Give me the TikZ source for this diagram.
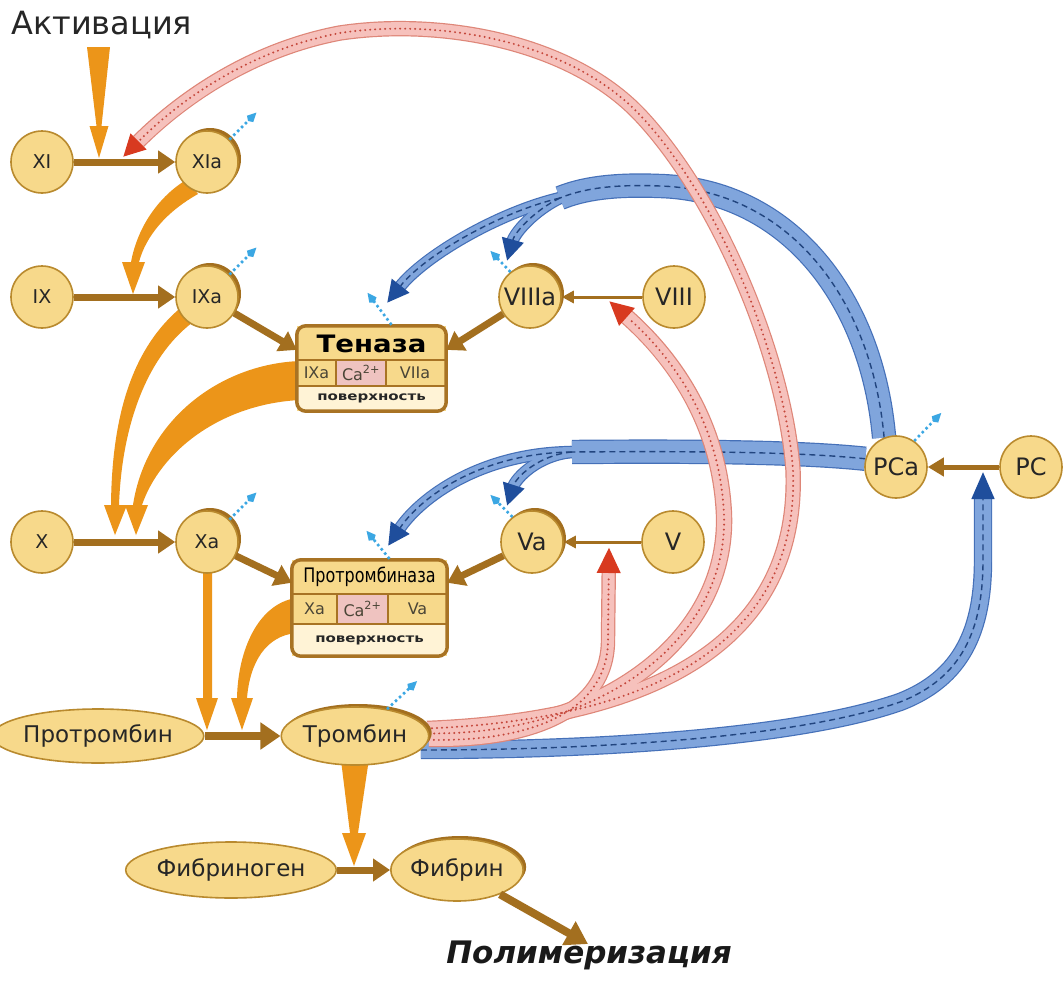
\documentclass[tikz,border=0pt]{standalone}
\usepackage{fontspec}
\setmainfont{DejaVu Sans}
\usetikzlibrary{arrows.meta,shapes.geometric,shadows,calc}
\definecolor{nodefill}{HTML}{F7D98B}
\definecolor{nodeborder}{HTML}{B98A2E}
\definecolor{brownarrow}{HTML}{A36F1F}
\definecolor{orangeA}{HTML}{EC9519}
\definecolor{boxborder}{HTML}{A87324}
\definecolor{pinkfill}{HTML}{F6C1BC}
\definecolor{pinkedge}{HTML}{DE8678}
\definecolor{pinkdot}{HTML}{C4463A}
\definecolor{bluefill}{HTML}{80A5DC}
\definecolor{blueedge}{HTML}{4570B8}
\definecolor{bluedash}{HTML}{22457F}
\definecolor{darkblue}{HTML}{1F4E9C}
\definecolor{redtip}{HTML}{D83A20}
\definecolor{lightblue}{HTML}{3BA7E3}
\definecolor{capink}{HTML}{EFC3C0}
\definecolor{cream}{HTML}{FFF3D6}
\definecolor{celltext}{HTML}{4A4536}
\pgfdeclarelayer{bg}
\pgfsetlayers{bg,main}
\begin{document}
\begin{tikzpicture}[x=1pt,y=-1pt,
  fac/.style={circle, draw=nodeborder, line width=1.6pt, fill=nodefill, minimum size=62pt, inner sep=0pt, text=black!85, font=\fontsize{19}{19}\selectfont},
  facR/.style={fac, font=\fontsize{24}{24}\selectfont},
  actv/.style={general shadow={fill=brownarrow, opacity=1, shadow xshift=3pt, shadow yshift=3pt}},
  ell/.style={ellipse, draw=nodeborder, line width=1.6pt, fill=nodefill, inner sep=0pt, text=black!85, font=\fontsize{23}{23}\selectfont},
  cplx/.style={rectangle, fill=nodefill, inner sep=0pt},
  brw/.style={draw=brownarrow, line width=7pt, -{Triangle[length=17pt,width=22pt]}},
  brwthin/.style={draw=brownarrow, line width=3pt, -{Triangle[length=12pt,width=12pt]}},
  lbl/.style={draw=lightblue, line width=2.6pt, dash pattern=on 2.5pt off 3pt, -{Kite[length=12pt,width=9pt]}},
  cell/.style={inner sep=0pt, text=celltext, font=\fontsize{16}{16}\selectfont},
  surf/.style={inner sep=0pt, text=black!85, font=\bfseries\fontsize{12}{12}\selectfont},
  bedge/.style={draw=blueedge},
  bfill/.style={draw=bluefill},
  bdash/.style={draw=bluedash, line width=1.4pt, dash pattern=on 6pt off 4pt},
  pedge/.style={draw=pinkedge},
  pfill/.style={draw=pinkfill},
  pdot/.style={draw=pinkdot, line width=2.2pt, line cap=round, dash pattern=on 0pt off 5pt},
]
\useasboundingbox (0,0) rectangle (1063,985);

% ---------- nodes ----------
\node[font=\fontsize{32}{32}\selectfont, anchor=west, inner sep=0pt, text=black!85] (activ) at (11,25) {Активация};
\node[fac] (xi) at (42,162) {XI};
\node[fac,actv] (xia) at (207,162) {XIa};
\node[fac] (ix) at (42,297) {IX};
\node[fac,actv] (ixa) at (207,297) {IXa};
\node[fac] (x) at (42,542) {X};
\node[fac,actv] (xa) at (207,542) {Xa};
\node[facR,actv] (viiia) at (530,297) {VIIIa};
\node[facR] (viii) at (674,297) {VIII};
\node[facR,actv] (va) at (532,542) {Va};
\node[facR] (v) at (673,542) {V};
\node[facR] (pca) at (896,467) {PCa};
\node[facR] (pc) at (1031,467) {PC};
\node[ell, minimum width=176pt, minimum height=54pt] (prot) at (98,736) {Протромбин};
\node[ell, actv, minimum width=134pt, minimum height=58pt] (tromb) at (355,736) {Тромбин};
\node[ell, minimum width=152pt, minimum height=56pt] (fibg) at (231,870) {Фибриноген};
\node[ell, actv, minimum width=94pt, minimum height=62pt] (fibr) at (457,870) {Фибрин};
\node[font=\bfseries\itshape\fontsize{31}{31}\selectfont, inner sep=0pt, text=black!90] (polym) at (589,955) {Полимеризация};
\coordinate (poltip) at (588,944);

% Tenase complex
\node[cplx, minimum width=149pt, minimum height=85pt] (ten) at (371.5,368.5) {};
\begin{scope}
\clip[rounded corners=9pt] (ten.north west) rectangle (ten.south east);
\fill[cream] (297,386) rectangle (446,411);
\fill[capink] (336,360) rectangle (386,386);
\end{scope}
\draw[boxborder, line width=1.2pt] (297,360) -- (446,360) (297,386) -- (446,386) (336,360) -- (336,386) (386,360) -- (386,386);
\draw[boxborder, line width=3.5pt, rounded corners=9pt] (ten.north west) rectangle (ten.south east);
\node[inner sep=0pt, font=\bfseries\fontsize{24}{24}\selectfont] (tenT) at (371.5,344) {\scalebox{1.15}[1]{Теназа}};
\node[cell] (tenA) at (316.5,373) {IXa};
\node[cell] (tenB) at (361,373) {Ca\textsuperscript{2+}};
\node[cell] (tenC) at (415,373) {VIIa};
\node[surf] (tenS) at (371.5,398.5) {\scalebox{1.25}[1]{поверхность}};

% Prothrombinase complex
\node[cplx, minimum width=155pt, minimum height=96pt] (ptb) at (369.5,608) {};
\begin{scope}
\clip[rounded corners=9pt] (ptb.north west) rectangle (ptb.south east);
\fill[cream] (292,624) rectangle (447,656);
\fill[capink] (337,594) rectangle (388,624);
\end{scope}
\draw[boxborder, line width=1.2pt] (292,594) -- (447,594) (292,624) -- (447,624) (337,594) -- (337,624) (388,594) -- (388,624);
\draw[boxborder, line width=3.5pt, rounded corners=9pt] (ptb.north west) rectangle (ptb.south east);
\node[inner sep=0pt, font=\fontsize{20}{20}\selectfont] (ptbT) at (369.5,577) {\scalebox{0.8}[1]{Протромбиназа}};
\node[cell] (ptbA) at (314.5,609) {Xa};
\node[cell] (ptbB) at (362.5,609) {Ca\textsuperscript{2+}};
\node[cell] (ptbC) at (417.5,609) {Va};
\node[surf] (ptbS) at (369.5,640) {\scalebox{1.25}[1]{поверхность}};

% ---------- coordinates for band ends ----------
\coordinate (s1) at (560,198);
\coordinate (s2) at (572,452);
\coordinate (bT) at (387,303);
\coordinate (b8) at (507,261);
\coordinate (bP) at (388,546);
\coordinate (bV) at (507,506);
\coordinate (bPC) at (983,471);
\coordinate (r8) at (609,301);
\coordinate (r5) at (609,547);
\coordinate (r11) at (123,157);

\def\pBcom{(pca.112) .. controls (872,300) and (790,190) .. (660,186) .. controls (612,184) and (582,189) .. (s1)}
\def\pBten{(s1) .. controls (500,212) and (425,255) .. (bT)}
\def\pBviii{(s1) .. controls (535,210) and (515,232) .. (b8)}
\def\pBcomb{(pca.165) .. controls (800,452) and (700,451) .. (s2)}
\def\pBpt{(s2) .. controls (480,453) and (420,498) .. (bP)}
\def\pBva{(s2) .. controls (538,455) and (516,478) .. (bV)}
\def\pBpc{(tromb.-12) .. controls (600,750) and (800,737) .. (900,702) .. controls (962,678) and (983,630) .. (983,560) -- (bPC)}
\def\pPva{(tromb.-3) .. controls (530,742) and (608,712) .. (608,640) -- (r5)}
\def\pPviii{(tromb.2) .. controls (600,735) and (728,640) .. (724,515) .. controls (720,420) and (670,355) .. (r8)}
\def\pPxi{(tromb.6) .. controls (640,720) and (800,650) .. (793,470) .. controls (785,360) and (720,200) .. (640,115) .. controls (570,41) and (440,18) .. (340,33) .. controls (250,50) and (180,100) .. (r11)}

\begin{pgfonlayer}{bg}
\fill[white] (0,0) rectangle (1063,985);
% ---- orange wedges ----
\fill[orangeA] (87,47) -- (110,47) -- (101.5,126) -- (108.5,126) -- (99,158) -- (89.5,126) -- (96.5,126) -- cycle;
\fill[orangeA] (186,180) .. controls (160,196) and (138,225) .. (131,262) -- (122,262) -- (133,294) -- (145,262) -- (139,262) .. controls (146,236) and (166,212) .. (198,194) -- cycle;
\fill[orangeA] (184,305) .. controls (140,340) and (112,400) .. (111,505) -- (104,505) -- (115,535) -- (127,505) -- (119,505) .. controls (122,420) and (150,352) .. (196,320) -- cycle;
\fill[orangeA] (300,361) .. controls (220,364) and (146,420) .. (133,505) -- (125,505) -- (136,535) -- (148,505) -- (142,505) .. controls (160,452) and (220,404) .. (300,400) -- cycle;
\fill[orangeA] (203,565) -- (212,565) -- (212,698) -- (218,698) -- (207,730) -- (196,698) -- (203,698) -- cycle;
\fill[orangeA] (296,598) .. controls (258,604) and (238,650) .. (237,698) -- (231,698) -- (242,730) -- (253,698) -- (247,698) .. controls (250,662) and (266,636) .. (296,633) -- cycle;
\fill[orangeA] (340,752) -- (370,752) -- (358,833) -- (366,833) -- (354,866) -- (342,833) -- (350,833) -- cycle;

% ---- blue bands ----
\draw[bedge, line width=24.4pt] \pBcom;
\draw[bedge, line width=12.4pt, shorten >=20pt] \pBten;
\draw[bedge, line width=12.4pt, shorten >=20pt] \pBviii;
\draw[bedge, line width=24.4pt] \pBcomb;
\draw[bedge, line width=12.4pt, shorten >=20pt] \pBpt;
\draw[bedge, line width=12.4pt, shorten >=20pt] \pBva;
\draw[bedge, line width=18.4pt, shorten >=26pt] \pBpc;
\draw[bfill, line width=22pt] \pBcom;
\draw[bfill, line width=10pt, -{Triangle[length=22pt,width=21pt,color=darkblue]}] \pBten;
\draw[bfill, line width=10pt, -{Triangle[length=22pt,width=21pt,color=darkblue]}] \pBviii;
\draw[bfill, line width=22pt] \pBcomb;
\draw[bfill, line width=10pt, -{Triangle[length=22pt,width=21pt,color=darkblue]}] \pBpt;
\draw[bfill, line width=10pt, -{Triangle[length=22pt,width=21pt,color=darkblue]}] \pBva;
\draw[bfill, line width=16pt, -{Triangle[length=28pt,width=21pt,color=darkblue]}] \pBpc;
\draw[bdash] \pBcom;
\draw[bdash, shorten >=22pt] \pBten;
\draw[bdash, shorten >=22pt] \pBviii;
\draw[bdash] \pBcomb;
\draw[bdash, shorten >=22pt] \pBpt;
\draw[bdash, shorten >=22pt] \pBva;
\draw[bdash, shorten >=28pt] \pBpc;

% ---- pink bands ----
\draw[pedge, line width=14.4pt, shorten >=26pt] \pPva;
\draw[pedge, line width=16.4pt, shorten >=24pt] \pPviii;
\draw[pedge, line width=15.4pt, shorten >=22pt] \pPxi;
\draw[pfill, line width=12pt, -{Triangle[length=26pt,width=22pt,color=redtip]}] \pPva;
\draw[pfill, line width=14pt, -{Triangle[length=24pt,width=22pt,color=redtip]}] \pPviii;
\draw[pfill, line width=13pt, -{Triangle[length=22pt,width=21pt,color=redtip]}] \pPxi;
\draw[pdot, shorten >=28pt] \pPva;
\draw[pdot, shorten >=26pt] \pPviii;
\draw[pdot, shorten >=24pt] \pPxi;
\end{pgfonlayer}

% ---------- brown arrows ----------
\draw[brw] (xi) -- (xia);
\draw[brw] (ix) -- (ixa);
\draw[brw] (x) -- (xa);
\draw[brw] (ixa) -- (ten.166);
\draw[brw] (viiia) -- (ten.14);
\draw[brw] (xa) -- (ptb.162);
\draw[brw] (va) -- (ptb.18);
\draw[brw, line width=8pt, -{Triangle[length=20pt,width=26pt]}] (prot) -- (tromb);
\draw[brw] (fibg) -- (fibr);
\draw[brw, line width=8pt, -{Triangle[length=22pt,width=26pt]}] (fibr) -- (poltip);
\draw[brwthin] (viii) -- (viiia);
\draw[brwthin] (v) -- (va);
\draw[brwthin, line width=5pt, -{Triangle[length=16pt,width=18pt]}] (pc) -- (pca);

% ---------- light blue arrows ----------
\draw[lbl] (xia.45) -- ++(27,-27);
\draw[lbl] (ixa.45) -- ++(27,-27);
\draw[lbl] (xa.45) -- ++(27,-27);
\draw[lbl] (tromb.40) -- ++(30,-28);
\draw[lbl] (pca.55) -- ++(27,-28);
\draw[lbl] ($(ten.north)+(20,-1)$) -- ++(-24,-32);
\draw[lbl] ($(ptb.north)+(20,-1)$) -- ++(-23,-28);
\draw[lbl] (viiia.128) -- ++(-20,-21);
\draw[lbl] (va.128) -- ++(-22,-22);
\end{tikzpicture}
\end{document}
